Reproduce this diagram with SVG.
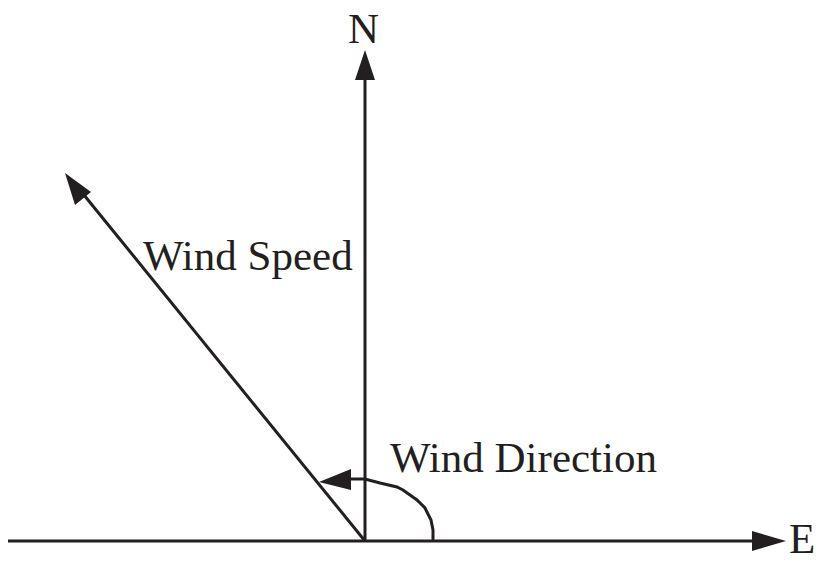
<svg xmlns="http://www.w3.org/2000/svg" width="822" height="563" viewBox="0 0 822 563">
<style>
.ln{stroke:#231f20;stroke-width:3;fill:none}
.ah{fill:#231f20}
text{font-family:"Liberation Serif","Times New Roman",serif;font-size:43px;fill:#231f20}
</style>
<rect width="822" height="563" fill="#fff"/>
<g id="connectors">
<line class="ln" x1="8" y1="541" x2="758" y2="541"/>
<polygon class="ah" points="786,541 752,531 752,551"/>
<line class="ln" x1="365" y1="541" x2="365" y2="78"/>
<polygon class="ah" points="365,50 355,80 375,80"/>
<line class="ln" x1="365" y1="541" x2="84" y2="195"/>
<polygon class="ah" points="65,173 91,192 75,205"/>
<path class="ln" d="M433,541 L433,530 L431,520 L425,508 L417,500 L410,495 L403,490 L397,487 L380,483 L365,479 L345,479"/>
<polygon class="ah" points="319,482 351,469 351,490"/>
</g>
<g id="N"><text x="348" y="43">N</text></g>
<g id="E"><text x="789" y="553">E</text></g>
<g id="wind-speed"><text x="143" y="270">Wind Speed</text></g>
<g id="wind-direction"><text x="390" y="472">Wind Direction</text></g>
</svg>
